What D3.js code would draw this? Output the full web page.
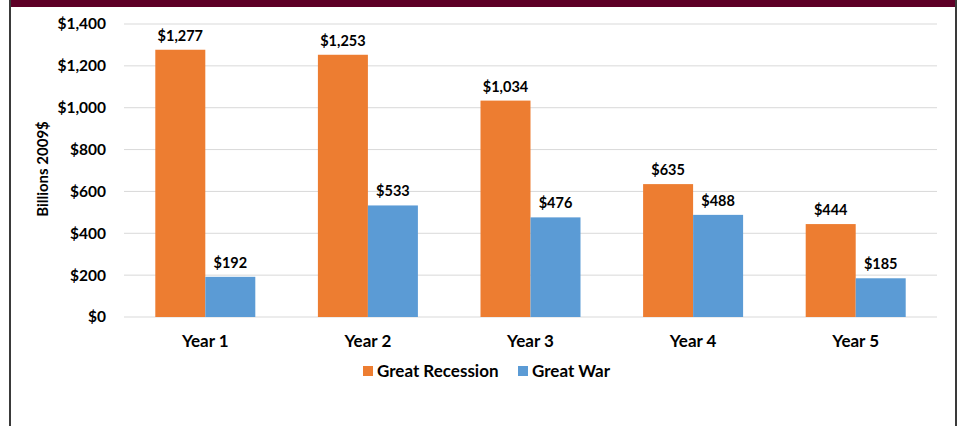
<!DOCTYPE html>
<html>
<head>
<meta charset="utf-8">
<script src="https://cdn.jsdelivr.net/npm/d3@7"></script>
<style>
  body { margin: 0; background: #fff; }
  text { font-family: Lato, "Open Sans", sans-serif; font-weight: bold; fill: #000; }
</style>
</head>
<body>
<div id="chart"></div>
<script>
var width = 959;
var height = 426;

let years = ['Year 1', 'Year 2', 'Year 3', 'Year 4', 'Year 5'];
let seriesNames = ['Great Recession', 'Great War'];
let recession = [1277, 1253, 1034, 635, 444];
let war = [192, 533, 476, 488, 185];
let yTicks = [0, 200, 400, 600, 800, 1000, 1200, 1400];
let colors = ['#ED7D31', '#5B9BD5'];

let svg = d3.select('#chart').append('svg')
    .attr('width', width)
    .attr('height', height);

// frame
svg.append('rect').attr('x', 10).attr('y', 0).attr('width', 946).attr('height', 7).attr('fill', '#5E0027');
svg.append('line').attr('x1', 10).attr('x2', 10).attr('y1', 0).attr('y2', height)
    .attr('stroke', '#3a3a3a').attr('stroke-width', 2);
svg.append('line').attr('x1', 956).attr('x2', 956).attr('y1', 0).attr('y2', height)
    .attr('stroke', '#3a3a3a').attr('stroke-width', 2);

let pLeft = 124, pRight = 937, pTop = 24, pBottom = 317;

let x = d3.scaleBand().domain(years).range([pLeft, pRight]).paddingInner(0.385).paddingOuter(0.1925);
let xs = d3.scaleBand().domain(seriesNames).range([0, x.bandwidth()]);
let y = d3.scaleLinear().domain([0, 1400]).range([pBottom, pTop]);

// gridlines
svg.append('g').selectAll('line')
    .data(yTicks)
    .enter()
    .append('line')
    .attr('x1', pLeft)
    .attr('x2', pRight)
    .attr('y1', d => y(d))
    .attr('y2', d => y(d))
    .attr('stroke', '#d9d9d9')
    .attr('stroke-width', 1);

// y labels
svg.append('g').selectAll('text')
    .data(yTicks)
    .enter()
    .append('text')
    .attr('x', 106)
    .attr('y', d => y(d))
    .attr('dy', '0.35em')
    .attr('text-anchor', 'end')
    .attr('font-size', 15.5)
    .text(d => '$' + d3.format(',')(d));

svg.append('text')
    .attr('transform', 'translate(48,169) rotate(-90)')
    .attr('text-anchor', 'middle')
    .attr('font-size', 15)
    .text('Billions 2009$');

let rows = [];
for (let i = 0; i < years.length; ++i) {
    rows.push({ year: years[i], s: seriesNames[0], v: recession[i], c: colors[0] });
    rows.push({ year: years[i], s: seriesNames[1], v: war[i], c: colors[1] });
}

svg.append('g').selectAll('rect')
    .data(rows)
    .enter()
    .append('rect')
    .attr('x', d => x(d.year) + xs(d.s))
    .attr('y', d => y(d.v))
    .attr('width', xs.bandwidth())
    .attr('height', d => pBottom - y(d.v))
    .attr('fill', d => d.c);

svg.append('g').selectAll('text')
    .data(rows)
    .enter()
    .append('text')
    .attr('x', d => x(d.year) + xs(d.s) + xs.bandwidth() / 2)
    .attr('y', d => y(d.v) - 9)
    .attr('text-anchor', 'middle')
    .attr('font-size', 14.5)
    .text(d => '$' + d3.format(',')(d.v));

// x labels
svg.append('g').selectAll('text')
    .data(years)
    .enter()
    .append('text')
    .attr('x', d => x(d) + x.bandwidth() / 2)
    .attr('y', 347)
    .attr('text-anchor', 'middle')
    .attr('font-size', 17)
    .text(d => d);

// legend
let legendX = [363, 518];
let lg = svg.append('g').selectAll('g')
    .data(seriesNames)
    .enter()
    .append('g')
    .attr('transform', (d, i) => 'translate(' + legendX[i] + ',366)');
lg.append('rect').attr('width', 10).attr('height', 10).attr('fill', (d, i) => colors[i]);
lg.append('text').attr('x', 14).attr('y', 5).attr('dy', '0.36em').attr('font-size', 17).text(d => d);
</script>
</body>
</html>
